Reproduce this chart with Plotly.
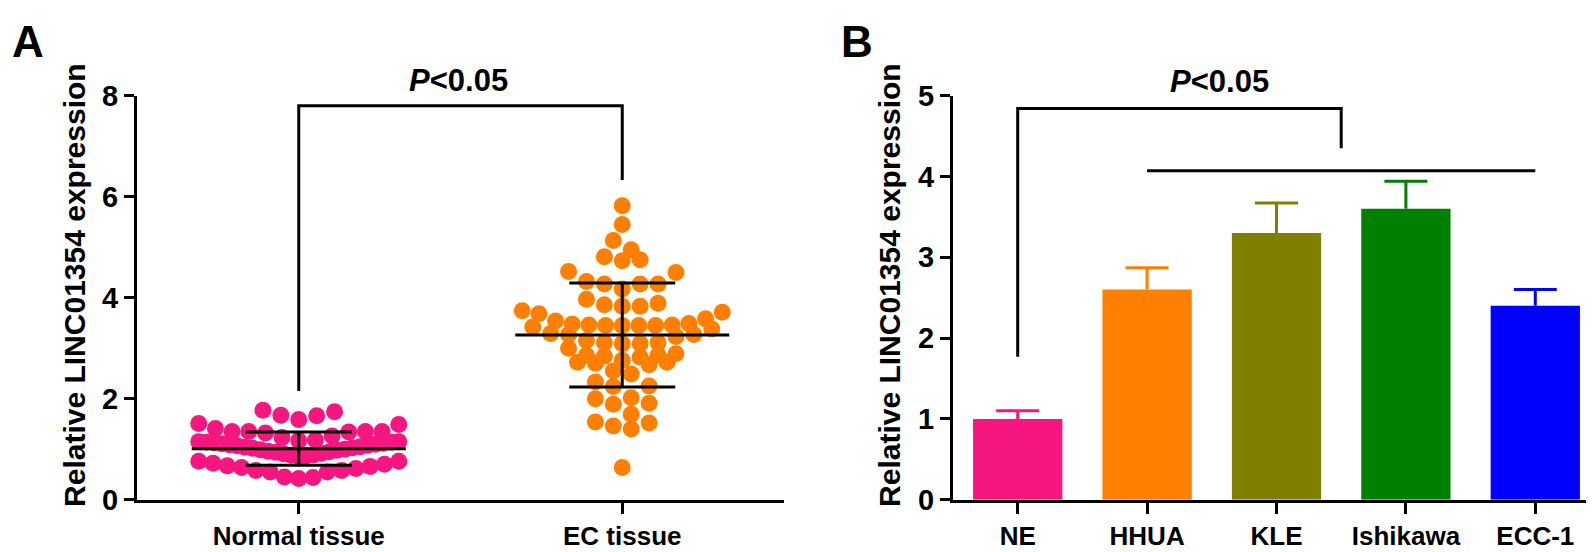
import numpy as np
import plotly.graph_objects as go

# ---------------- Panel A data ----------------
groups_a = ["Normal tissue", "EC tissue"]

normal_values = [
    # upper sparse row
    1.59, 1.66, 1.67, 1.74, 1.77,
    # second row
    1.17, 1.18, 1.23, 1.26, 1.32, 1.34, 1.35, 1.35, 1.35, 1.35, 1.41, 1.49, 1.51,
    # dense band
    0.85, 0.87, 0.88, 0.89, 0.91, 0.92, 0.94, 0.95, 0.96, 0.98, 0.99, 1.00, 1.02,
    1.03, 1.04, 1.05, 1.07, 1.08, 1.09, 1.10, 1.11, 1.12, 1.13, 1.14, 1.14, 1.15, 1.15,
    # lower row
    0.42, 0.44, 0.45, 0.55, 0.55, 0.58, 0.58, 0.62, 0.64, 0.66, 0.67, 0.70, 0.72, 0.76, 0.76,
]

ec_values = [
    0.64, 1.40, 1.46, 1.52, 1.54, 1.69, 1.89, 1.91, 2.00, 2.02, 2.24, 2.25, 2.33,
    2.49, 2.55, 2.67, 2.70, 2.72, 2.72, 2.76, 2.82, 2.84, 2.86, 2.86, 2.89, 3.00,
    3.09, 3.09, 3.11, 3.11, 3.15, 3.23, 3.27, 3.27, 3.29, 3.38, 3.42,
    3.45, 3.45, 3.45, 3.45, 3.46, 3.46, 3.48, 3.49, 3.54, 3.58, 3.68, 3.71, 3.74,
    3.83, 3.83, 3.86, 3.89, 3.97, 4.17, 4.27, 4.27, 4.27, 4.32, 4.50, 4.52,
    4.73, 4.75, 4.81, 4.95, 5.13, 5.45, 5.82,
]

group_means_a = [1.01, 3.26]
group_sd_a = [0.33, 1.03]
sig_a_heights = [2.15, 7.80, 6.33]   # left foot, top, right foot

# ---------------- Panel B data ----------------
cell_lines = ["NE", "HHUA", "KLE", "Ishikawa", "ECC-1"]
bar_means = [1.00, 2.60, 3.30, 3.60, 2.40]
bar_sd = [0.10, 0.27, 0.37, 0.34, 0.20]
sig_b_bracket = [1.77, 4.84, 4.35]   # NE foot, top, right foot
sig_b_line = 4.07
sig_label = "<b><i>P</i>&lt;0.05</b>"

# ---------------- styles ----------------
PINK = "#F5177F"
ORANGE = "#FF8000"
bar_colors = [PINK, ORANGE, "#808000", "#008000", "#0000FF"]
point_colors = [PINK, ORANGE]
FONT = "Liberation Sans, Arial, Helvetica, sans-serif"

W, H = 1594, 552
ax_a_px = (129, 776)
ax_b_px = (945, 1592)
y_px = (76, 505)  # top, bottom

def dom_x(p):
    return [p[0] / W, p[1] / W]

y_dom = [1 - y_px[1] / H, 1 - y_px[0] / H]

px_per_unit_a = (ax_a_px[1] - ax_a_px[0]) / 2.0
px_per_unit_b = (ax_b_px[1] - ax_b_px[0]) / 5.0


def swarm_offsets(values, bin_width, bin_origin, step, max_span):
    vals = np.asarray(values, dtype=float)
    offs = np.zeros(len(vals))
    bins = np.floor((vals - bin_origin) / bin_width + 1e-9).astype(int)
    for b in np.unique(bins):
        idx = np.where(bins == b)[0]
        idx = idx[np.argsort(vals[idx], kind="stable")]
        n = len(idx)
        s = step if n < 2 else min(step, max_span / (n - 1))
        for k, i in enumerate(idx):
            if n % 2 == 1:
                m = (k + 1) // 2
                sign = 1 if k % 2 == 1 else -1
            else:
                m = k // 2 + 0.5
                sign = 1 if k % 2 == 0 else -1
            offs[i] = sign * m * s
    return offs


step_u = 17.9 / px_per_unit_a
span_u = 200.0 / px_per_unit_a

fig = go.Figure()

swarm_params = [(0.38, 0.40), (0.36, 3.445)]
for gi, (vals, col) in enumerate(zip([normal_values, ec_values], point_colors)):
    bw, bo = swarm_params[gi]
    offs = swarm_offsets(vals, bw, bo, step_u, span_u)
    fig.add_trace(go.Scatter(
        x=gi + offs, y=vals, mode="markers",
        marker=dict(size=17, color=col, line=dict(width=0)),
        xaxis="x", yaxis="y", hoverinfo="skip", showlegend=False,
        cliponaxis=False,
    ))

# mean and SD lines
mean_half = 107 / px_per_unit_a
cap_half = 53 / px_per_unit_a
lx, ly = [], []
for gi, (m, s) in enumerate(zip(group_means_a, group_sd_a)):
    lx += [gi - mean_half, gi + mean_half, None]
    ly += [m, m, None]
    lx += [gi - cap_half, gi + cap_half, None, gi - cap_half, gi + cap_half, None, gi, gi, None]
    ly += [m + s, m + s, None, m - s, m - s, None, m - s, m + s, None]
fig.add_trace(go.Scatter(x=lx, y=ly, mode="lines", line=dict(color="black", width=3),
                         xaxis="x", yaxis="y", hoverinfo="skip", showlegend=False))

# significance bracket A
fig.add_trace(go.Scatter(
    x=[0, 0, 1, 1], y=[sig_a_heights[0], sig_a_heights[1], sig_a_heights[1], sig_a_heights[2]],
    mode="lines", line=dict(color="black", width=3),
    xaxis="x", yaxis="y", hoverinfo="skip", showlegend=False, cliponaxis=False))

# ---------------- Panel B ----------------
bar_cap_half = 21.5 / px_per_unit_b
for i, (name, m, s, col) in enumerate(zip(cell_lines, bar_means, bar_sd, bar_colors)):
    fig.add_trace(go.Bar(
        x=[i], y=[m], width=0.69, marker=dict(color=col, line=dict(width=0)),
        xaxis="x2", yaxis="y2", hoverinfo="skip", showlegend=False))
    # upper-only SD error bar
    fig.add_trace(go.Scatter(
        x=[i, i, None, i - bar_cap_half, i + bar_cap_half],
        y=[m, m + s, None, m + s, m + s],
        mode="lines", line=dict(color=col, width=3),
        xaxis="x2", yaxis="y2", hoverinfo="skip", showlegend=False, cliponaxis=False))

fig.add_trace(go.Scatter(
    x=[0, 0, 2.5, 2.5], y=[sig_b_bracket[0], sig_b_bracket[1], sig_b_bracket[1], sig_b_bracket[2]],
    mode="lines", line=dict(color="black", width=3),
    xaxis="x2", yaxis="y2", hoverinfo="skip", showlegend=False, cliponaxis=False))
fig.add_trace(go.Scatter(
    x=[1, 4], y=[sig_b_line, sig_b_line], mode="lines", line=dict(color="black", width=3),
    xaxis="x2", yaxis="y2", hoverinfo="skip", showlegend=False, cliponaxis=False))

axis_common = dict(showline=True, linecolor="black", linewidth=3, ticks="outside",
                   tickcolor="black", tickwidth=3, showgrid=False, zeroline=False,
                   fixedrange=True)
xfont = dict(family=FONT, size=26, color="black", weight="bold")
yfont = dict(family=FONT, size=29, color="black", weight="bold")

fig.update_layout(
    width=W, height=H,
    margin=dict(l=0, r=0, t=0, b=0),
    paper_bgcolor="white", plot_bgcolor="white",
    barmode="overlay",
    showlegend=False,
    xaxis=dict(domain=dom_x(ax_a_px), range=[-0.5, 1.5], tickvals=[0, 1], ticktext=groups_a,
               ticklen=11, anchor="y", tickfont=xfont, **axis_common),
    yaxis=dict(domain=y_dom, range=[0, 8], tickvals=[0, 2, 4, 6, 8], ticklen=10,
               anchor="x", tickfont=yfont, **axis_common),
    xaxis2=dict(domain=dom_x(ax_b_px), range=[-0.5, 4.5], tickvals=list(range(len(cell_lines))),
                ticktext=cell_lines, ticklen=11, anchor="y2", tickfont=xfont, **axis_common),
    yaxis2=dict(domain=y_dom, range=[0, 5], tickvals=[0, 1, 2, 3, 4, 5], ticklen=10,
                anchor="x2", tickfont=yfont, **axis_common),
)

ann_font = dict(family=FONT, color="black")

def paper_ann(text, px, py, size, angle=0):
    return dict(text=text, x=px / W, y=1 - py / H, xref="paper", yref="paper",
                xanchor="center", yanchor="middle", showarrow=False, textangle=angle,
                font=dict(size=size, **ann_font))

annotations = [
    paper_ann("<b>A</b>", 20, 19, 44),
    paper_ann("<b>B</b>", 849, 19, 44),
    paper_ann("<b>Relative LINC01354 expression</b>", 67, 277, 30, -90),
    paper_ann("<b>Relative LINC01354 expression</b>", 882, 277, 30, -90),
    paper_ann(sig_label, 450, 60, 31),
    paper_ann(sig_label, 1211, 61, 31),
]
fig.update_layout(annotations=annotations)

fig.write_html("out.html", config=dict(displayModeBar=False, staticPlot=True))
